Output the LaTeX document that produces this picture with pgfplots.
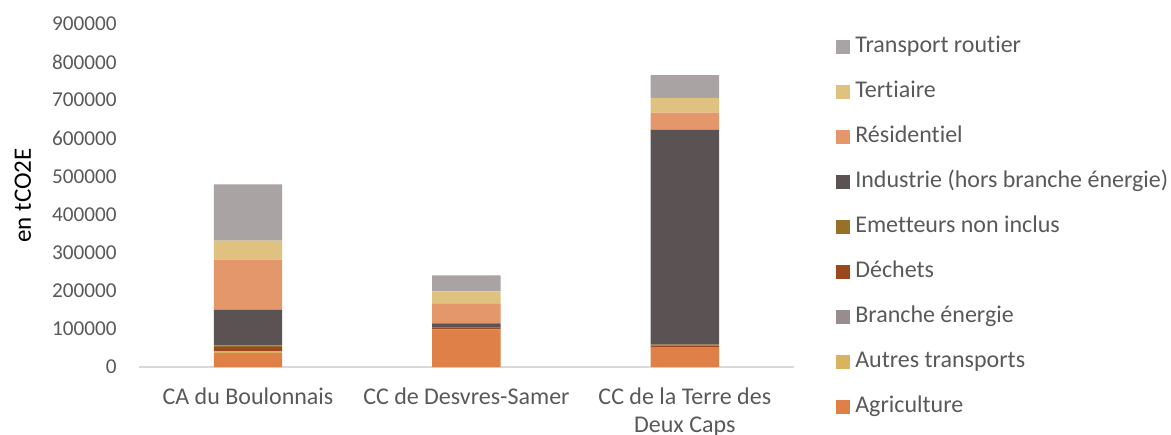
\documentclass[border=0pt]{standalone}
\usepackage{fontspec}
\setmainfont{Carlito}[Ligatures={NoCommon}]
\usepackage{pgfplots}
\pgfplotsset{compat=1.18}
\definecolor{cAgri}{HTML}{DE8047}
\definecolor{cAutres}{HTML}{D9B35F}
\definecolor{cBranche}{HTML}{968D8C}
\definecolor{cDechets}{HTML}{9A481E}
\definecolor{cEmet}{HTML}{977127}
\definecolor{cIndus}{HTML}{5B5253}
\definecolor{cResid}{HTML}{E3976B}
\definecolor{cTert}{HTML}{DFC27F}
\definecolor{cTransp}{HTML}{A9A3A3}
\definecolor{txt}{HTML}{595959}
\definecolor{axl}{HTML}{D9D9D9}
\begin{document}
\fontsize{10.5}{12.8}\selectfont
\begin{tikzpicture}
\path[use as bounding box] (0,0) rectangle (585.5pt,217pt);
\begin{axis}[
  at={(69.4pt,33.5pt)}, anchor=south west,
  scale only axis, width=327.6pt, height=171.6pt,
  ybar stacked, bar width=34.2pt,
  xmin=-0.5, xmax=2.5, ymin=0, ymax=900000,
  xtick={0,1,2},
  xticklabels={CA du Boulonnais, CC de Desvres-Samer, {CC de la Terre des\\Deux Caps}},
  ytick={0,100000,200000,300000,400000,500000,600000,700000,800000,900000},
  scaled y ticks=false,
  /pgf/number format/fixed,
  /pgf/number format/1000 sep={},
  /pgf/number format/assume math mode=true,
  axis x line*=bottom,
  axis y line*=left,
  x axis line style={draw=axl, line width=0.75pt, -},
  y axis line style={draw=none},
  major tick length=0pt,
  tick style={draw=none},
  ticklabel style={text=txt},
  yticklabel style={font=\fontsize{10.6}{12.8}\selectfont, xshift=-7.4pt},
  xticklabel style={align=center, font=\fontsize{12}{14.2}\selectfont, yshift=-6.5pt},
  ylabel={en tCO2E},
  ylabel style={text=txt},
  every axis y label/.style={at={(axis description cs:-0.177,0.5)}, rotate=90, anchor=center, font=\fontsize{12.5}{15}\selectfont},
  reverse legend,
  legend cell align=left,
  legend image code/.code={\fill[#1] (0pt,-3.5pt) rectangle (7pt,3.5pt);},
  legend style={at={(axis description cs:1.064,0.965)}, anchor=north west, draw=none, fill=none,
    text=txt, inner sep=0pt, row sep=12.2pt, column sep=2.5pt,
    font=\fontsize{12}{14.2}\selectfont,
    nodes={inner sep=0pt, text height=8pt, text depth=2.3pt}},
]
\addplot[fill=cAgri, draw=none] coordinates {(0,36700) (1,98800) (2,50900)};
\addlegendentry{Agriculture}
\addplot[fill=cAutres, draw=none] coordinates {(0,5200) (1,0) (2,0)};
\addlegendentry{Autres transports}
\addplot[fill=cBranche, draw=none] coordinates {(0,0) (1,0) (2,0)};
\addlegendentry{Branche énergie}
\addplot[fill=cDechets, draw=none] coordinates {(0,10500) (1,5200) (2,5000)};
\addlegendentry{Déchets}
\addplot[fill=cEmet, draw=none] coordinates {(0,4500) (1,0) (2,2500)};
\addlegendentry{Emetteurs non inclus}
\addplot[fill=cIndus, draw=none] coordinates {(0,93600) (1,10500) (2,564300)};
\addlegendentry{Industrie (hors branche énergie)}
\addplot[fill=cResid, draw=none] coordinates {(0,131000) (1,52400) (2,44600)};
\addlegendentry{Résidentiel}
\addplot[fill=cTert, draw=none] coordinates {(0,49800) (1,31500) (2,38500)};
\addlegendentry{Tertiaire}
\addplot[fill=cTransp, draw=none] coordinates {(0,147600) (1,41900) (2,59500)};
\addlegendentry{Transport routier}
\end{axis}
\end{tikzpicture}
\end{document}
